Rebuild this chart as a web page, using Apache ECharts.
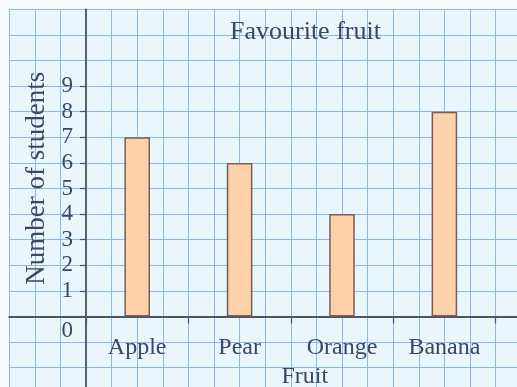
<!DOCTYPE html>
<html>
<head>
<meta charset="utf-8">
<script src="https://cdn.jsdelivr.net/npm/echarts@6/dist/echarts.min.js"></script>
<style>html,body{margin:0;padding:0;background:#f3fafd}#c{width:517px;height:387px}</style>
</head>
<body>
<div id="c"></div>
<script>
const categories = ['Apple', 'Pear', 'Orange', 'Banana'];
const students = [7, 6, 4, 8];
const yTicks = [0, 1, 2, 3, 4, 5, 6, 7, 8, 9];
const titleText = 'Favourite fruit';
const xName = 'Fruit';
const yName = 'Number of students';

const FONT = 'Liberation Serif';
const TXT = '#3b4763';
const AX = '#4c5466';
const GRIDC = '#8fb9e2';
const U = 25.6;
const X0 = 86, Y0 = 316.5;

const chart = echarts.init(document.getElementById('c'), null, {renderer: 'canvas'});
chart.setOption({
  backgroundColor: '#f4fafd',
  animation: false,
  title: {
    text: titleText, left: 225, top: 14,
    textStyle: {fontFamily: FONT, fontSize: 26, fontWeight: 'normal', color: TXT}
  },
  grid: [
    {left: X0 - 3 * U, top: Y0 - 12 * U, width: 20 * U, height: 15 * U,
     show: true, backgroundColor: '#e9f6fb', borderWidth: 0,
     containLabel: false, outerBoundsMode: 'none'},
    {left: X0, top: Y0 - 9 * U, width: 16 * U, height: 9 * U,
     containLabel: false, outerBoundsMode: 'none'}
  ],
  xAxis: [
    {gridIndex: 0, type: 'value', min: -3, max: 17, interval: 1,
     axisLine: {show: true, onZero: true, lineStyle: {color: AX, width: 1.8}},
     axisTick: {show: false}, axisLabel: {show: false},
     splitLine: {show: true, lineStyle: {color: GRIDC, width: 1}}},
    {gridIndex: 1, type: 'category', data: categories,
     axisLine: {show: false},
     axisTick: {show: true, length: 7, lineStyle: {color: AX, width: 1.2}},
     axisLabel: {margin: 19, fontFamily: FONT, fontSize: 24, color: TXT},
     name: xName, nameLocation: 'middle', nameGap: 38,
     nameTextStyle: {fontFamily: FONT, fontSize: 24, color: TXT, padding: [0, 0, 0, 28]}}
  ],
  yAxis: [
    {gridIndex: 0, type: 'value', min: -3, max: 12, interval: 1,
     axisLine: {show: true, onZero: true, lineStyle: {color: AX, width: 1.8}},
     axisTick: {show: false}, axisLabel: {show: false},
     splitLine: {show: true, lineStyle: {color: GRIDC, width: 1}}},
    {gridIndex: 1, type: 'value', min: yTicks[0], max: yTicks[yTicks.length - 1], interval: 1,
     axisLine: {show: false},
     axisTick: {show: true, length: 6, lineStyle: {color: AX, width: 1.2}},
     splitLine: {show: false},
     axisLabel: {margin: 13, fontFamily: FONT, fontSize: 23, color: TXT,
       formatter: v => v === 0 ? '{z|0}' : String(v),
       rich: {z: {fontFamily: FONT, fontSize: 23, color: TXT, padding: [28, 0, 0, 0]}}},
     name: yName, nameLocation: 'middle', nameGap: 33, nameRotate: 90,
     nameTextStyle: {fontFamily: FONT, fontSize: 27, color: TXT, padding: [0, 0, 0, 46]}}
  ],
  series: [{
    type: 'bar', xAxisIndex: 1, yAxisIndex: 1, data: students, barWidth: '25%',
    itemStyle: {color: '#fdd2ab', borderColor: '#7d5c52', borderWidth: 1.5}
  }]
});
</script>
</body>
</html>
